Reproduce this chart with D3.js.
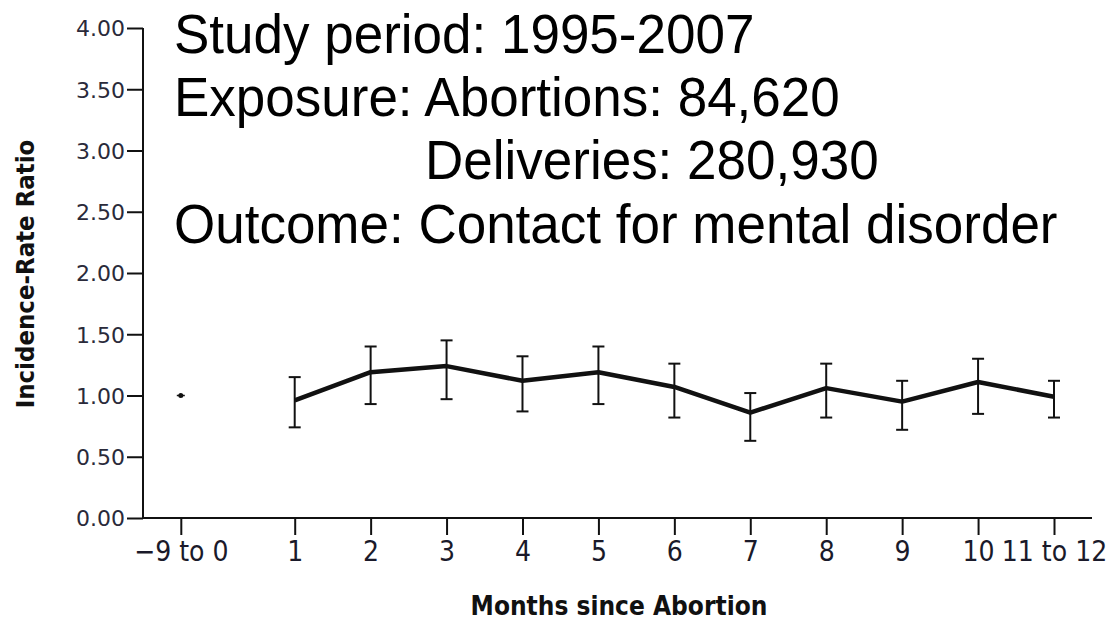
<!DOCTYPE html>
<html>
<head>
<meta charset="utf-8">
<script src="https://cdn.jsdelivr.net/npm/d3@7"></script>
<style>
  html, body { margin: 0; padding: 0; background: #fff; }
  svg { display: block; }
  .cond { font-family: "DejaVu Sans Condensed", "DejaVu Sans", sans-serif; font-stretch: condensed; }
</style>
</head>
<body>
<svg id="chart" width="1115" height="634"></svg>
<script>
// ---- data ----
const categories = ["\u22129 to 0", "1", "2", "3", "4", "5", "6", "7", "8", "9", "10", "11 to 12"];
const irr   = [1.00, 0.96, 1.19, 1.24, 1.12, 1.19, 1.07, 0.86, 1.06, 0.95, 1.11, 0.99];
const lower = [1.00, 0.74, 0.93, 0.97, 0.87, 0.93, 0.82, 0.63, 0.82, 0.72, 0.85, 0.82];
const upper = [1.00, 1.15, 1.40, 1.45, 1.32, 1.40, 1.26, 1.02, 1.26, 1.12, 1.30, 1.12];
const yTicks = [0, 0.5, 1, 1.5, 2, 2.5, 3, 3.5, 4];
const notes = [
  {text: "Study period: 1995-2007", indent: false},
  {text: "Exposure: Abortions: 84,620", indent: false},
  {text: "Deliveries: 280,930", indent: true},
  {text: "Outcome: Contact for mental disorder", indent: false}
];
const yTitle = "Incidence-Rate Ratio";
const xTitle = "Months since Abortion";

// ---- layout ----
const svg = d3.select("#chart");
const axisX = 143, axisY = 518, axisRight = 1092;
const y = d3.scaleLinear().domain([0, 4]).range([518, 28]);
const xl = d3.scaleLinear().domain([1, 11]).range([294.7, 1054]);
const step = xl(2) - xl(1);
const x = d3.scaleOrdinal()
  .domain(categories)
  .range(categories.map((c, i) => i === 0 ? xl(1) - 1.5 * step : xl(i)));

// axes lines
svg.append("line").attr("x1", axisX).attr("x2", axisX).attr("y1", y(4)).attr("y2", axisY)
  .attr("stroke", "#111").attr("stroke-width", 2);
svg.append("line").attr("x1", axisX).attr("x2", axisRight).attr("y1", axisY).attr("y2", axisY)
  .attr("stroke", "#111").attr("stroke-width", 2);

// y axis
const yAxis = d3.axisLeft(y).tickValues(yTicks).tickFormat(d3.format(".2f")).tickSize(16).tickPadding(2);
const gy = svg.append("g").attr("transform", `translate(${axisX},0)`).call(yAxis);
gy.select(".domain").remove();
gy.selectAll(".tick line").attr("stroke", "#111").attr("stroke-width", 2);
gy.selectAll(".tick text").attr("fill", "#2a2a3a").attr("font-family", "DejaVu Sans, sans-serif")
  .attr("font-size", 22).attr("dy", "0.36em");

// x axis
const xAxis = d3.axisBottom(x).tickSize(17).tickPadding(6);
const gx = svg.append("g").attr("transform", `translate(0,${axisY})`).call(xAxis);
gx.select(".domain").remove();
gx.selectAll(".tick line").attr("stroke", "#111").attr("stroke-width", 2);
gx.selectAll(".tick text").attr("class", "cond").attr("fill", "#1a1a2a")
  .attr("font-size", 28).attr("dy", "0.71em");

// axis titles
svg.append("text").attr("class", "cond")
  .attr("transform", "translate(34,274) rotate(-90)")
  .attr("text-anchor", "middle").attr("font-weight", "bold").attr("font-size", 25.5)
  .attr("fill", "#111").text(yTitle);
svg.append("text").attr("class", "cond")
  .attr("x", 619).attr("y", 615)
  .attr("text-anchor", "middle").attr("font-weight", "bold").attr("font-size", 26)
  .attr("fill", "#111").text(xTitle);

// error bars (months 1..12)
const idx = d3.range(1, categories.length);
const capW = 6;
const eb = svg.append("g").attr("stroke", "#111").attr("stroke-width", 2).attr("fill", "none");
idx.forEach(i => {
  const cx = x(categories[i]);
  eb.append("line").attr("x1", cx).attr("x2", cx).attr("y1", y(upper[i])).attr("y2", y(lower[i]));
  eb.append("line").attr("x1", cx - capW).attr("x2", cx + capW).attr("y1", y(upper[i])).attr("y2", y(upper[i]));
  eb.append("line").attr("x1", cx - capW).attr("x2", cx + capW).attr("y1", y(lower[i])).attr("y2", y(lower[i]));
});

// line
const line = d3.line().x(i => x(categories[i])).y(i => y(irr[i]));
svg.append("path").datum(idx).attr("d", line)
  .attr("fill", "none").attr("stroke", "#111").attr("stroke-width", 4.5).attr("stroke-linejoin", "round");

// reference point
svg.append("circle").attr("cx", x(categories[0])).attr("cy", y(irr[0])).attr("r", 2.5).attr("fill", "#111");
svg.append("line").attr("x1", x(categories[0]) - 4).attr("x2", x(categories[0]) + 4)
  .attr("y1", y(irr[0])).attr("y2", y(irr[0])).attr("stroke", "#111").attr("stroke-width", 1.5);

// annotations
const baselines = [53, 116, 179, 243];
notes.forEach((n, i) => {
  svg.append("text")
    .attr("transform", `translate(${n.indent ? 425 : 174},${baselines[i]}) scale(1,1.05)`)
    .attr("font-family", "Liberation Sans, Arial, sans-serif").attr("font-size", 53)
    .attr("fill", "#000").text(n.text);
});
</script>
</body>
</html>
